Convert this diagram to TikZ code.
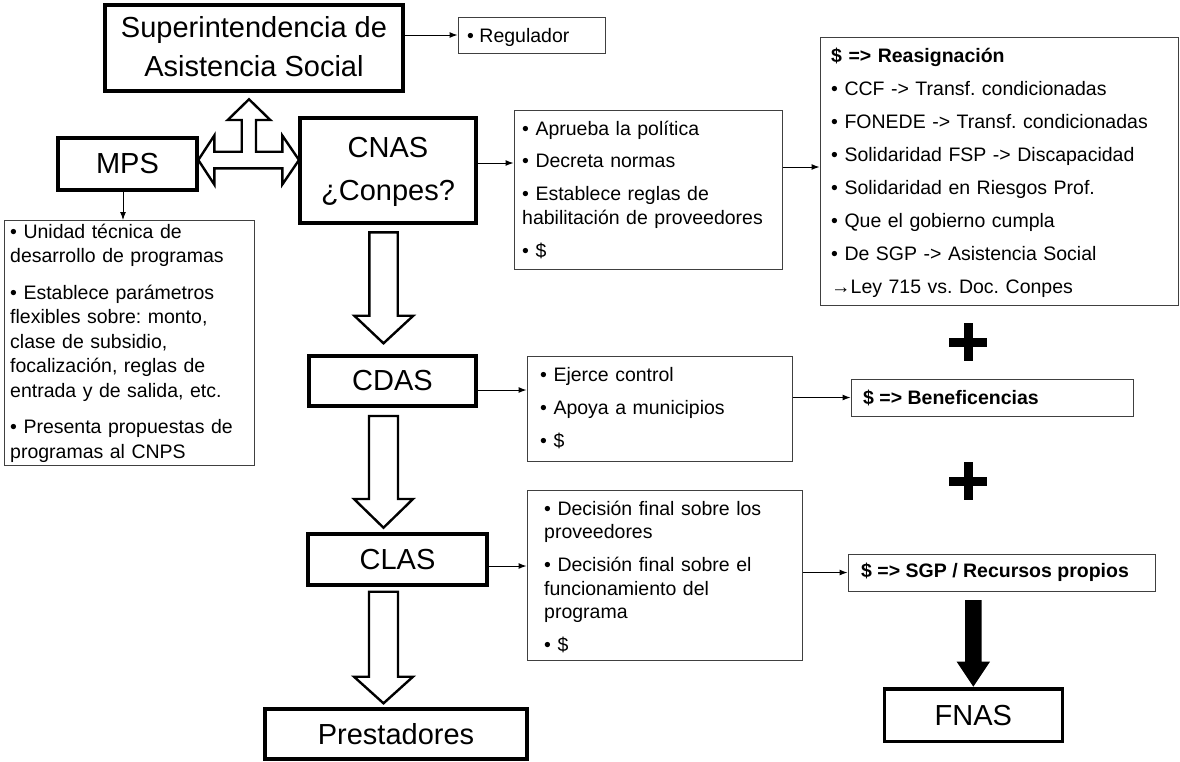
\documentclass[tikz,border=0pt]{standalone}
\usepackage{fontspec}
\setmainfont{Liberation Sans}
\usetikzlibrary{arrows.meta}
\frenchspacing
\begin{document}
\begin{tikzpicture}[x=1pt,y=-1pt,
  bigbox/.style={draw=black,line width=3.2pt,inner sep=0pt},
  thinbox/.style={draw=black!75,line width=1pt,inner sep=0pt},
  bigtext/.style={font=\fontsize{29}{39}\selectfont,align=center,inner sep=0pt},
  smalltext/.style={font=\fontsize{19.5}{24.5}\selectfont,align=left,inner sep=0pt,anchor=north west},
  boldtext/.style={font=\bfseries\fontsize{19.5}{24}\selectfont,inner sep=0pt,anchor=west},
  conn/.style={-{Latex[length=8pt,width=6pt]},line width=1pt},
  blockarrow/.style={draw=black,line width=2.4pt,fill=white,line join=miter},
  plus/.style={line width=9pt}
]
\useasboundingbox (0,0) rectangle (1180,761);

% Superintendencia
\node[bigbox,minimum width=298pt,minimum height=86pt] (sup) at (254,48) {};
\node[bigtext] (suptxt) at (254,47) {Superintendencia de\\Asistencia Social};
\node[thinbox,minimum width=147pt,minimum height=36pt] (reg) at (531.5,35) {};
\node[smalltext,anchor=base west] (regtxt) at (467,42) {• Regulador};
\draw[conn] (sup.east |- reg.west) -- (reg.west);

% MPS
\node[bigbox,minimum width=139pt,minimum height=52pt] (mps) at (127.5,164) {};
\node[bigtext] (mpstxt) at (mps.center) {MPS};
% CNAS
\node[bigbox,minimum width=176pt,minimum height=105pt] (cnas) at (388,170.5) {};
\node[bigtext,font=\fontsize{29}{43}\selectfont] (cnastxt) at (388,172) {CNAS\\¿Conpes?};

% T block arrow
\draw[blockarrow] (198.3,160) -- (214.3,135.5) -- (214.3,151.7) -- (241.7,151.7) -- (241.7,120)
  -- (227.7,120) -- (249,99.3) -- (270.3,120) -- (256,120) -- (256,151.7) -- (282.3,151.7)
  -- (282.3,135.5) -- (299,160) -- (282.3,184.5) -- (282.3,168.3) -- (214.3,168.3)
  -- (214.3,184.5) -- cycle;

% MPS text box
\node[thinbox,minimum width=250pt,minimum height=244.5pt] (mpsbox) at (129,342.75) {};
\node[smalltext,text width=245pt] (mpsboxtxt) at (10,223.5)
 {• Unidad técnica de\\desarrollo de programas\\[12pt]• Establece parámetros\\flexibles sobre: monto,\\clase de subsidio,\\focalización, reglas de\\entrada y de salida, etc.\\[12pt]• Presenta propuestas de\\programas al CNPS};
\draw[conn] (mps.south -| 123,0) -- (mpsbox.north -| 123,0);

% CNAS text box
\node[thinbox,minimum width=268pt,minimum height=159pt] (cnasbox) at (648,189.5) {};
\node[smalltext,text width=262pt] (cnasboxtxt) at (522,120.5)
 {• Aprueba la política\\[8pt]• Decreta normas\\[8pt]• Establece reglas de\\habilitación de proveedores\\[8pt]• \$};
\draw[conn] (cnas.east |- 0,163) -- (cnasbox.west |- 0,163);

% Right box
\node[thinbox,minimum width=358pt,minimum height=268pt] (rbox) at (999,171) {};
\node[smalltext,font=\fontsize{19.5}{33}\selectfont,text width=345pt] (rboxtxt) at (831,47.5)
 {\textbf{\$ => Reasignación}\\• CCF -> Transf. condicionadas\\• FONEDE -> Transf. condicionadas\\• Solidaridad FSP -> Discapacidad\\• Solidaridad en Riesgos Prof.\\• Que el gobierno cumpla\\• De SGP -> Asistencia Social\\→Ley 715 vs. Doc. Conpes};
\draw[conn] (cnasbox.east |- 0,167) -- (rbox.west |- 0,167);

% plus signs
\draw[plus] (949,342) -- (987,342) (968,323) -- (968,361);
\draw[plus] (949,481) -- (987,481) (968,462) -- (968,500);

% CDAS
\node[bigbox,minimum width=167pt,minimum height=50pt] (cdas) at (392.5,381) {};
\node[bigtext] (cdastxt) at (cdas.center) {CDAS};
\node[thinbox,minimum width=265pt,minimum height=105pt] (cdasbox) at (659.5,408.5) {};
\node[smalltext,font=\fontsize{19.5}{33}\selectfont,text width=255pt] (cdasboxtxt) at (540,367)
 {• Ejerce control\\• Apoya a municipios\\• \$};
\draw[conn] (cdas.east |- 0,390) -- (cdasbox.west |- 0,390);
\node[thinbox,minimum width=282pt,minimum height=37pt] (benef) at (992,397.5) {};
\node[boldtext] (beneftxt) at (863,397.5) {\$ => Beneficencias};
\draw[conn] (cdasbox.east |- benef.west) -- (benef.west);

% block arrow CNAS -> CDAS
\draw[blockarrow] (369.3,232.3) -- (397.7,232.3) -- (397.7,315.7) -- (413.3,315.7) -- (383.5,343.3)
  -- (354.3,315.7) -- (369.3,315.7) -- cycle;

% CLAS
\node[bigbox,minimum width=179pt,minimum height=51pt] (clas) at (397.5,559.5) {};
\node[bigtext] (clastxt) at (clas.center) {CLAS};
\node[thinbox,minimum width=275pt,minimum height=170pt] (clasbox) at (664.5,575) {};
\node[smalltext,font=\fontsize{19.5}{23.5}\selectfont,text width=255pt] (clasboxtxt) at (544,500.5)
 {• Decisión final sobre los\\proveedores\\[9.5pt]• Decisión final sobre el\\funcionamiento del\\programa\\[9.5pt]• \$};
\draw[conn] (clas.east |- 0,566) -- (clasbox.west |- 0,566);
\node[thinbox,minimum width=307pt,minimum height=37pt] (sgp) at (1001.5,572.5) {};
\node[boldtext] (sgptxt) at (861,572.5) {\$ => SGP / Recursos propios};
\draw[conn] (clasbox.east |- sgp.west) -- (sgp.west);

% block arrow CDAS -> CLAS
\draw[blockarrow] (369,416) -- (398,416) -- (398,499) -- (413,499) -- (383.5,527.7)
  -- (354,499) -- (369,499) -- cycle;

% Prestadores
\node[bigbox,minimum width=262pt,minimum height=50pt] (prest) at (396,734) {};
\node[bigtext] (presttxt) at (prest.center) {Prestadores};
% block arrow CLAS -> Prestadores
\draw[blockarrow] (369,591.7) -- (398,591.7) -- (398,676.7) -- (413,676.7) -- (383.5,703.3)
  -- (354,676.7) -- (369,676.7) -- cycle;

% FNAS
\node[bigbox,minimum width=178pt,minimum height=52.7pt] (fnas) at (973.3,715.3) {};
\node[bigtext] (fnastxt) at (fnas.center) {FNAS};
\fill[black] (965,600) -- (981.7,600) -- (981.7,661.7) -- (990,661.7) -- (973.3,686.7)
  -- (956.7,661.7) -- (965,661.7) -- cycle;
\end{tikzpicture}
\end{document}
